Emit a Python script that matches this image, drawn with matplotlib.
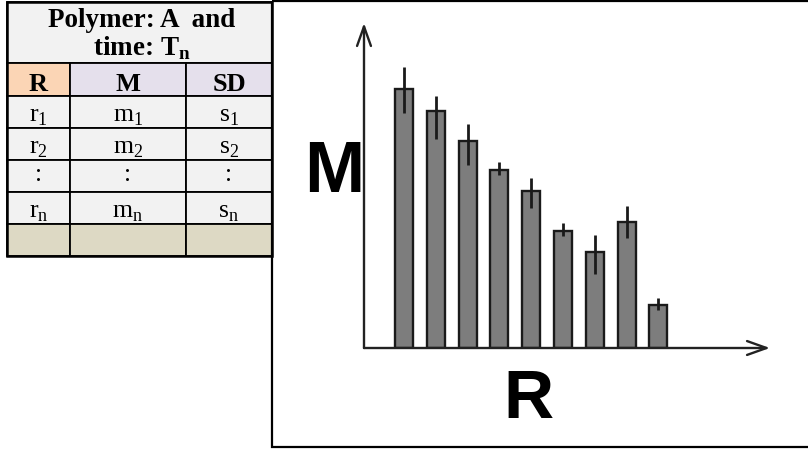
import matplotlib.pyplot as plt
from matplotlib.patches import Rectangle

# Sample ranges and their mean / spread (arbitrary units)
r_pos = [1, 2, 3, 4, 5, 6, 7, 8, 9]
m_mean = [25.9, 23.7, 20.7, 17.8, 15.7, 11.7, 9.6, 12.6, 4.3]
sd_low = [2.4, 2.8, 2.4, 0.5, 1.7, 0.5, 2.2, 1.6, 0.5]
sd_high = [2.2, 1.5, 1.7, 0.8, 1.3, 0.8, 1.7, 1.6, 0.7]

# Table contents
title_lines = ['Polymer: A  and', r'time: T$_\mathregular{n}$']
headers = ['R', 'M', 'SD']
rows = [
    [r'r$_\mathregular{1}$', r'm$_\mathregular{1}$', r's$_\mathregular{1}$'],
    [r'r$_\mathregular{2}$', r'm$_\mathregular{2}$', r's$_\mathregular{2}$'],
    [':', ':', ':'],
    [r'r$_\mathregular{n}$', r'm$_\mathregular{n}$', r's$_\mathregular{n}$'],
    ['', '', ''],
]
header_colors = ['#fbd5b5', '#e5e0ec', '#e5e0ec']

W, H = 808, 449
fig = plt.figure(figsize=(W / 100, H / 100), dpi=100)

# Background axes in pixel units for the table and the frame
bg = fig.add_axes([0, 0, 1, 1])
bg.set_xlim(0, W)
bg.set_ylim(H, 0)
bg.axis('off')

serif = 'Liberation Serif'
col_x = [7, 70, 186, 272]
row_y = [2, 63, 96, 128, 160, 192, 224, 256]
lw = 1.3

# title cell
bg.add_patch(Rectangle((col_x[0], row_y[0]), col_x[-1] - col_x[0], row_y[1] - row_y[0],
                       facecolor='#f2f2f2', edgecolor='black', lw=lw))
cx = (col_x[0] + col_x[-1]) / 2 + 2
bg.text(cx, 27, title_lines[0], ha='center', va='baseline', family=serif,
        fontweight='bold', fontsize=19.5)
bg.text(cx, 56, title_lines[1], ha='center', va='baseline', family=serif,
        fontweight='bold', fontsize=19.5)

# header row
for j, h in enumerate(headers):
    bg.add_patch(Rectangle((col_x[j], row_y[1]), col_x[j + 1] - col_x[j], row_y[2] - row_y[1],
                           facecolor=header_colors[j], edgecolor='black', lw=lw))
    bg.text((col_x[j] + col_x[j + 1]) / 2, 91, h, ha='center', va='baseline',
            family=serif, fontweight='bold', fontsize=19)

# data rows
baselines = [121, 153, 181, 218, 250]
for i, row in enumerate(rows):
    fc = '#ddd9c4' if i == len(rows) - 1 else '#f2f2f2'
    for j, val in enumerate(row):
        bg.add_patch(Rectangle((col_x[j], row_y[i + 2]), col_x[j + 1] - col_x[j],
                               row_y[i + 3] - row_y[i + 2], facecolor=fc,
                               edgecolor='black', lw=lw))
        if val:
            bg.text((col_x[j] + col_x[j + 1]) / 2, baselines[i], val, ha='center',
                    va='baseline', family=serif, fontsize=18.5)

# table outer border
bg.add_patch(Rectangle((col_x[0], row_y[0]), col_x[-1] - col_x[0], row_y[-1] - row_y[0],
                       facecolor='none', edgecolor='black', lw=1.8))

# frame around the chart
bg.add_patch(Rectangle((272, 1), 545, 445.5, facecolor='none', edgecolor='black', lw=1.6))

# Chart
ax = fig.add_axes([364 / W, 101 / H, 406 / W, 325 / H])
ax.bar(r_pos, m_mean, width=0.57, color='#7d7d7d', edgecolor='#1a1a1a', linewidth=1.7)
ax.errorbar(r_pos, m_mean, yerr=[sd_low, sd_high], fmt='none', ecolor='#1a1a1a',
            elinewidth=2, capsize=0)
ax.set_xlim(-0.258, 12.51)
ax.set_ylim(0, 32.5)
ax.axis('off')

arrow = dict(arrowstyle='->,head_length=1.4,head_width=0.5', lw=1.7, color='#222222',
             shrinkA=0, shrinkB=0)
ax.annotate('', xy=(1, 0), xytext=(0, 0), xycoords='axes fraction', arrowprops=arrow)
ax.annotate('', xy=(0, 1), xytext=(0, 0), xycoords='axes fraction', arrowprops=arrow)

# axis letters
bg.text(334, 192, 'M', ha='center', va='baseline', family='Liberation Sans',
        fontweight='bold', fontsize=52)
bg.text(528, 418, 'R', ha='center', va='baseline', family='Liberation Sans',
        fontweight='bold', fontsize=50)

fig.savefig('out.png', dpi=100)
